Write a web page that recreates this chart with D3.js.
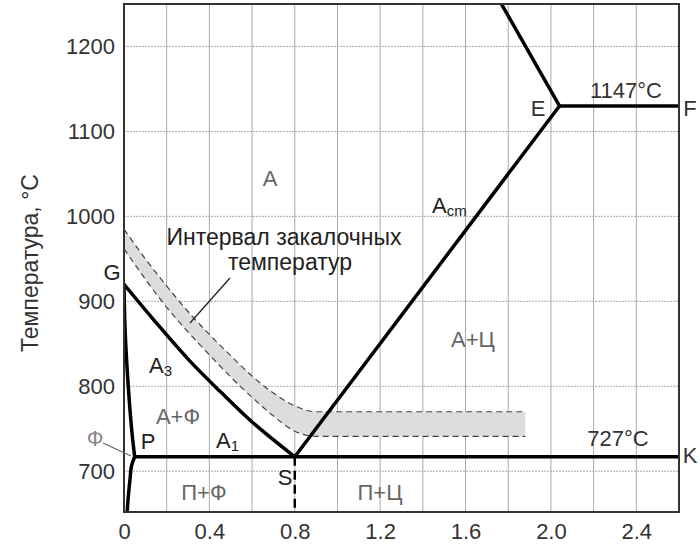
<!DOCTYPE html>
<html><head><meta charset="utf-8">
<script src="https://cdn.jsdelivr.net/npm/d3@7"></script>
<style>
body{margin:0;background:#fff;}
text{font-family:"Liberation Sans",Arial,sans-serif;}
</style></head>
<body><svg id="c" width="700" height="545"></svg>
<script>
// ---- data ----
const xTicks = [0,0.4,0.8,1.2,1.6,2.0,2.4];
const xTickLabels = ["0","0.4","0.8","1.2","1.6","2.0","2.4"];
const xGrid = [0.2,0.4,0.6,0.8,1.0,1.2,1.4,1.6,1.8,2.0,2.2,2.4];
const yTicks = [700,800,900,1000,1100,1200];
// G-S (A3)
const gsC = [0,0.14,0.3,0.45,0.6,0.8];
const gsT = [920,878,832,794,758,717];
// G-P
const gpC = [0,0.005,0.02,0.036,0.05];
const gpT = [920,867,800,749,717];
// P-Q
const pqC = [0.05,0.035,0.028,0.02,0.015];
const pqT = [717,706,690,670,652];
// S-E (Acm)
const seC = [0.8,2.04];
const seT = [717,1130];
// E upward (liquidus)
const eUpC = [2.04,1.75];
const eUpT = [1130,1258];
// E-F
const efC = [2.04,2.6];
const efT = [1130,1130];
// P-S-K
const pkC = [0.05,2.6];
const pkT = [717,717];
// S vertical dashed
const sdC = [0.8,0.8];
const sdT = [717,652];
// quenching interval band
const bandC = [0,0.1,0.2,0.3,0.4,0.5,0.6,0.7,0.8,0.9,1.0,1.88];
const bandHi = [985,950,918,888,861,836,812,792,777,770,770,770];
const bandLo = [962,926,893,864,837,811,787,765,747,741,741,741];

// ---- scales ----
const svg = d3.select("#c");
const x = d3.scaleLinear().domain([0,2.6]).range([124,679]);
const y = d3.scaleLinear().domain([652,1250]).range([512,4]);

svg.append("clipPath").attr("id","pc").append("rect")
  .attr("x",124).attr("y",4).attr("width",555).attr("height",508);

// grid
const g = svg.append("g");
g.selectAll(".vg").data(xGrid).join("line")
  .attr("x1",d=>x(d)).attr("x2",d=>x(d)).attr("y1",y(652)).attr("y2",y(1250))
  .attr("stroke","#aaa").attr("stroke-width",1);
g.selectAll(".hg").data(yTicks).join("line")
  .attr("y1",d=>y(d)).attr("y2",d=>y(d)).attr("x1",x(0)).attr("x2",x(2.6))
  .attr("stroke","#aaa").attr("stroke-width",1).attr("stroke-dasharray","2,1");

// band
const pc = svg.append("g").attr("clip-path","url(#pc)");
const area = d3.area().x((d,i)=>x(bandC[i])).y0((d,i)=>y(bandLo[i])).y1((d,i)=>y(bandHi[i])).curve(d3.curveMonotoneX);
pc.append("path").datum(bandC).attr("d",area).attr("fill","#dddddd");
const bl = (arr)=>d3.line().x((d,i)=>x(bandC[i])).y((d,i)=>y(arr[i])).curve(d3.curveMonotoneX)(bandC);
pc.append("path").attr("d",bl(bandHi)).attr("fill","none").attr("stroke","#444").attr("stroke-width",1.2).attr("stroke-dasharray","6,4");
pc.append("path").attr("d",bl(bandLo)).attr("fill","none").attr("stroke","#444").attr("stroke-width",1.2).attr("stroke-dasharray","6,4");

// lines
function draw(cs, ts, curve, opts={}) {
  const pts = cs.map((c,i)=>[c,ts[i]]);
  const l = d3.line().x(d=>x(d[0])).y(d=>y(d[1])).curve(curve||d3.curveLinear);
  const p = pc.append("path").attr("d",l(pts)).attr("fill","none")
    .attr("stroke","#000").attr("stroke-width",opts.w||3.5).attr("stroke-linejoin","round").attr("stroke-linecap", opts.cap||"round");
  if (opts.dash) p.attr("stroke-dasharray",opts.dash);
}
draw(gsC,gsT,d3.curveCatmullRom);
draw(gpC,gpT,d3.curveCatmullRom);
draw(pqC,pqT,d3.curveCatmullRom);
draw(seC,seT);
draw(eUpC,eUpT);
draw(efC,efT,null,{cap:"butt"});
draw(pkC,pkT,null,{cap:"butt"});
draw(sdC,sdT,null,{w:2.5,dash:"9,5",cap:"butt"});

// frame
svg.append("rect").attr("x",124).attr("y",4).attr("width",555).attr("height",508)
  .attr("fill","none").attr("stroke","#333").attr("stroke-width",2);

// axes labels
const xa = d3.axisBottom(x).tickValues(xTicks).tickFormat((d,i)=>xTickLabels[i]).tickSize(0).tickPadding(11);
const gx = svg.append("g").attr("transform","translate(0,512)").call(xa);
gx.select(".domain").remove();
gx.selectAll("text").attr("font-size",22).attr("fill","#333").attr("font-family","Liberation Sans, Arial, sans-serif");
const ya = d3.axisLeft(y).tickValues(yTicks).tickFormat(d3.format("d")).tickSize(0).tickPadding(9);
const gy = svg.append("g").attr("transform","translate(124,0)").call(ya);
gy.select(".domain").remove();
gy.selectAll("text").attr("font-size",22).attr("fill","#333").attr("font-family","Liberation Sans, Arial, sans-serif");

svg.append("text").attr("transform","translate(30,263) rotate(-90)").attr("text-anchor","middle")
  .attr("dominant-baseline","central")
  .attr("font-size",23).attr("fill","#333").text("Температура, °C");

// annotations
function t(xp, yp, s, opts={}) {
  return svg.append("text").attr("x",xp).attr("y",yp).attr("text-anchor",opts.a||"middle")
    .attr("dominant-baseline","central").attr("font-size",opts.fs||22).attr("fill",opts.c||"#222").text(s);
}
const gray = "#666";
t(270,178,"А",{c:gray});
const acm = t(432,205,"А",{a:"start"}); acm.append("tspan").attr("font-size",15).attr("dy",5).text("cm");
t(284,237,"Интервал закалочных",{fs:23});
t(290,262,"температур",{fs:23});
svg.append("line").attr("x1",230).attr("y1",278).attr("x2",190).attr("y2",323).attr("stroke","#222").attr("stroke-width",1.3);
t(112,272,"G");
t(95,438,"Ф",{c:"#888"});
svg.append("line").attr("x1",103).attr("y1",443).attr("x2",131).attr("y2",456).attr("stroke","#666").attr("stroke-width",1.2);
t(148,441,"P");
const a3 = t(149,365,"А",{a:"start"}); a3.append("tspan").attr("font-size",15).attr("dy",5).text("3");
t(178,416,"А+Ф",{c:gray});
const a1 = t(216,440,"А",{a:"start"}); a1.append("tspan").attr("font-size",15).attr("dy",5).text("1");
t(285,477,"S");
t(204,492,"П+Ф",{c:gray});
t(380,492,"П+Ц",{c:gray});
t(473,339,"А+Ц",{c:gray});
t(618,438,"727°C",{c:"#333"});
t(690,455,"K",{c:"#333"});
t(538,108,"E",{c:"#333"});
t(626,90,"1147°C",{c:"#333"});
t(690,108,"F",{c:"#333"});
</script></body></html>
